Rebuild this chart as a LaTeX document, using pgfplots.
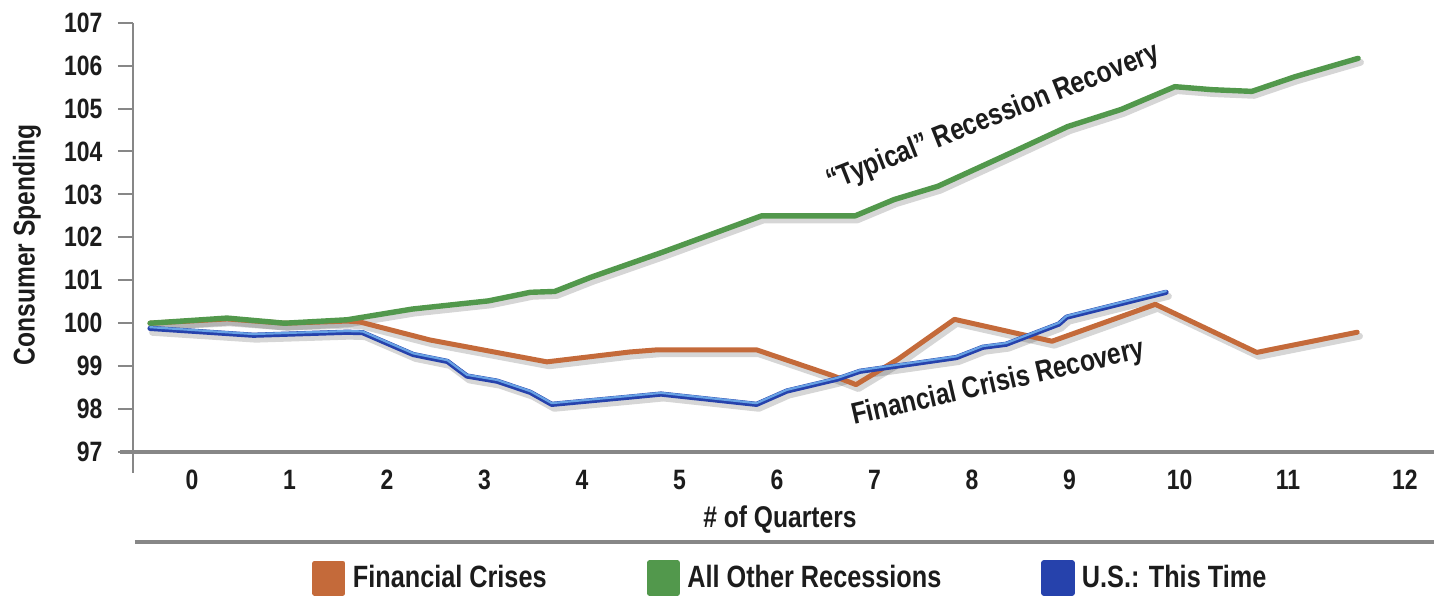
\documentclass[border=0pt]{standalone}
\usepackage{fontspec}
\setmainfont{Liberation Sans}[FakeStretch=0.82]
\usepackage{pgfplots}
\usepackage{pgfplotstable}
\pgfplotsset{compat=1.18}

\definecolor{crisis}{RGB}{196,106,58}
\definecolor{others}{RGB}{82,152,76}
\definecolor{usdark}{RGB}{38,66,172}
\definecolor{uslight}{RGB}{104,162,228}
\definecolor{axisgray}{RGB}{135,135,135}
\definecolor{labeltext}{RGB}{28,28,28}

\newcommand\tickfont{\fontsize{14}{16}\selectfont\bfseries}
\newcommand\labelfont{\fontsize{15}{17}\selectfont\bfseries}
\newcommand\legendfont{\fontsize{15.4}{17}\selectfont\bfseries}

% Consumer spending index (start of recession = 100) by quarter
\pgfplotstableread{
x y
-0.43 100.00
0.36 100.10
0.95 100.00
1.59 100.05
1.72 100.03
2.44 99.61
3.64 99.10
4.49 99.33
4.77 99.38
5.79 99.38
6.57 98.78
6.81 98.57
7.24 99.16
7.82 100.09
8.82 99.58
9.88 100.44
10.92 99.32
11.95 99.79
}\crisisdata

\pgfplotstableread{
x y
-0.43 100.00
0.36 100.12
0.95 100.00
1.59 100.08
2.26 100.33
3.04 100.52
3.47 100.72
3.72 100.74
4.09 101.07
4.82 101.65
5.84 102.50
6.80 102.50
7.20 102.88
7.65 103.19
8.41 103.98
8.98 104.58
9.53 104.98
10.08 105.51
10.46 105.44
10.87 105.40
11.31 105.74
11.96 106.17
}\othersdata

\pgfplotstableread{
x y
-0.43 99.88
0.63 99.72
1.59 99.79
1.75 99.78
2.27 99.27
2.62 99.11
2.82 98.77
3.13 98.65
3.47 98.39
3.69 98.11
4.49 98.28
4.81 98.35
5.79 98.11
6.10 98.42
6.62 98.70
6.85 98.88
7.84 99.20
8.11 99.44
8.35 99.51
8.89 99.98
8.97 100.14
9.99 100.72
}\usdata

\begin{document}
\begin{tikzpicture}[x=1pt,y=1pt]
\useasboundingbox (0,0) rectangle (717,298);
\begin{axis}[
  at={(66.5pt,72pt)}, anchor=south west,
  scale only axis, width=650.5pt, height=214.65pt,
  xmin=-0.605, xmax=12.738, ymin=97, ymax=107,
  clip=false,
  axis x line*=bottom, axis y line*=left,
  x axis line style={-, draw=axisgray, line width=1.6pt},
  y axis line style={-, draw=axisgray, line width=1pt},
  xtick={0,1,2,3,4,5,6,7,8,9,10.13,11.24,12.44},
  xticklabels={0,1,2,3,4,5,6,7,8,9,10,11,12},
  ytick={97,98,...,107},
  tick align=outside,
  major tick length=7.5pt,
  xtick style={draw=none},
  ytick style={draw=axisgray, line width=1pt},
  /pgf/number format/assume math mode=true,
  /pgf/number format/1000 sep={},
  ticklabel style={font=\tickfont, text=labeltext},
  xticklabel style={yshift=2pt},
  yticklabel style={xshift=-4.3pt},
  xlabel={\# of Quarters},
  xlabel style={at={(axis description cs:0.4973,-0.158)}, anchor=center,
    font=\labelfont, text=labeltext},
  ylabel={Consumer Spending},
  ylabel style={at={(axis description cs:-0.0815,0.482)}, anchor=center,
    font=\labelfont, text=labeltext},
  legend columns=3,
  legend style={at={(axis description cs:0.1376,-0.2935)}, anchor=west,
    draw=none, fill=none, inner sep=0pt, font=\legendfont, text=labeltext,
    /tikz/every even column/.append style={column sep=48pt}},
  legend image code/.code={%
    \fill[#1] (0pt,-7.5pt) rectangle (14pt,7.5pt);
    \path[draw=none, fill=none] (0pt,0pt) -- (17pt,0pt);},
  every axis plot/.append style={line join=round, line cap=round},
]
% soft drop shadows under each line
\addplot[forget plot, black, opacity=0.16, line width=3.4pt, xshift=1.2pt, yshift=-2pt] table {\crisisdata};
\addplot[forget plot, black, opacity=0.16, line width=3.4pt, xshift=1.2pt, yshift=-2pt] table {\othersdata};
\addplot[forget plot, black, opacity=0.16, line width=3.4pt, xshift=1.2pt, yshift=-2pt] table {\usdata};

\addplot[color=crisis, line width=2.5pt] table {\crisisdata};
\addlegendentry{Financial Crises}
\addplot[color=others, line width=2.7pt] table {\othersdata};
\addlegendentry{All Other Recessions}
\addplot[color=usdark, line width=2.6pt] table {\usdata};
\addlegendentry{U.S.: This Time}
\addplot[forget plot, color=uslight, line width=1.1pt, yshift=0.6pt] table {\usdata};

% annotations along the curves
\node[rotate=21.6, font=\labelfont, text=labeltext] at (axis cs:8.22,104.78) {“Typical” Recession Recovery};
\node[rotate=13, font=\labelfont, text=labeltext] at (axis cs:8.27,98.59) {Financial Crisis Recovery};

% axis line extensions and the rule above the legend
\draw[axisgray, line width=1pt] (axis description cs:0,0) -- (axis description cs:0,-0.049);
\draw[axisgray, line width=1.6pt] (axis description cs:-0.01,0) -- (axis description cs:0,0);
\draw[axisgray, line width=1.6pt] (axis description cs:0.0015,-0.2096) -- (axis description cs:1,-0.2096);
\end{axis}
\end{tikzpicture}
\end{document}
